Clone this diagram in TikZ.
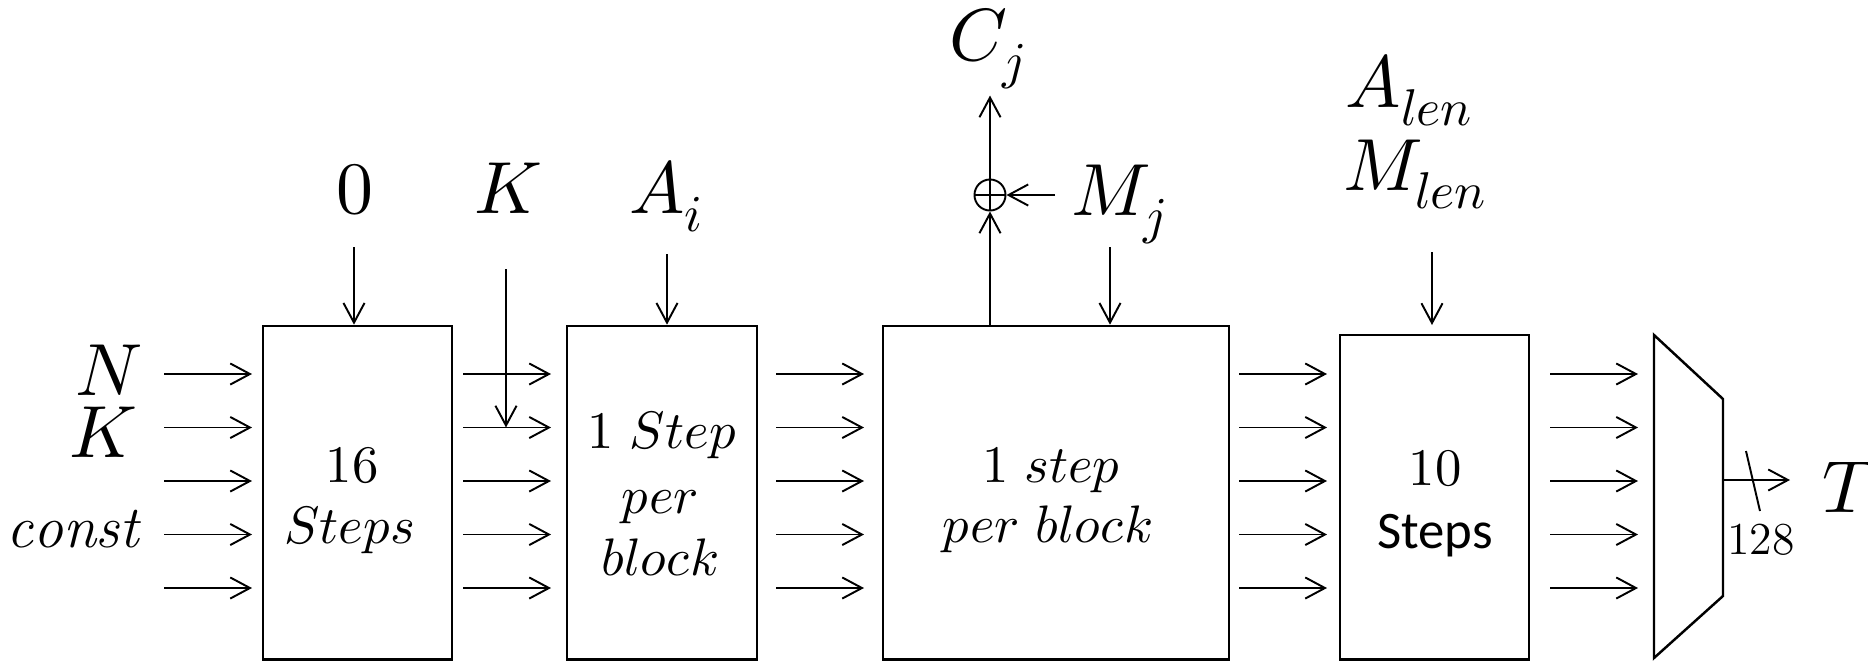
\documentclass[tikz,border=0pt]{standalone}
\usepackage{unicode-math}
\newfontfamily\calibri{Carlito}
\usetikzlibrary{arrows.meta,positioning,calc}
\tikzset{
  blk/.style={draw,line width=0.7pt,inner sep=0pt},
  arr/.style={-{Straight Barb[length=5.6pt,width=6pt]},line width=0.55pt},
  lbl/.style={font=\fontsize{21}{25}\selectfont,inner sep=0pt},
  txt/.style={font=\fontsize{15}{18}\selectfont,inner sep=0pt,anchor=base},
  xor/.style={circle,draw,line width=0.55pt,minimum size=0.31cm,inner sep=0pt,
    path picture={\draw[line width=0.55pt] (path picture bounding box.north) -- (path picture bounding box.south)
      (path picture bounding box.west) -- (path picture bounding box.east);}},
}

\begin{document}
\begin{tikzpicture}[x=0.01cm,y=-0.01cm]
    \useasboundingbox (0,0) rectangle (1868,660);
    \clip (0,0) rectangle (1868,660);
    \node[blk,minimum width=1.89cm,minimum height=3.335cm] (b1) at (357.5,492.75) {};
    \node[blk,minimum width=1.90cm,minimum height=3.335cm] (b2) at (662,492.75) {};
    \node[blk,minimum width=3.46cm,minimum height=3.335cm] (b3) at (1056,492.75) {};
    \node[blk,minimum width=1.89cm,minimum height=3.245cm] (b4) at (1434.5,497.25) {};
    \foreach \n/\x/\y/\t in {s1a/352/482/{$16$}, s1b/350/543/{$Steps$}, s2a/662/448/{$1\ Step$}, s2b/660/513/{$per$}, s2c/660/575/{$block$}, s3a/1051/482/{$1\ step$}, s3b/1048/542/{$per\ block$}, s4a/1435/485/{$10$}, s4b/1435/548/{\calibri Steps}}
      \node[txt] (\n) at (\x,\y) {\t};
    \foreach \i in {0,...,4}
      \foreach \s in {164,463,776,1239,1550}
        \draw[arr] (\s,{374+53.5*\i}) -- ++(88,0);
    \node[lbl,anchor=base east] (nin) at (143,395) {$N$};
    \node[lbl,anchor=base east] (kin) at (138,457) {$K$};
    \node[lbl,anchor=base east,font=\fontsize{17}{20}\selectfont] (cin) at (140,547) {$\mathit{const}$};
    \node[lbl,anchor=base] (zero) at (355,213) {$0$};
    \draw[arr] (zero.base) ++(-1,34) coordinate (z0) -- (z0 |- b1.north);
    \node[lbl,anchor=base] (ktop) at (508,213) {$K$};
    \draw[arr] (ktop.base) ++(-2,56) -- ++(0,158.5);
    \node[lbl,anchor=base] (ai) at (667,213) {$A_i$};
    \draw[arr] (ai.base) ++(0,41) coordinate (a0) -- (a0 |- b2.north);
    \node[xor] (xo) at (990,195) {};
    \draw[arr] (xo |- b3.north) -- (xo.south);
    \draw[arr] (xo.north) -- ++(0,-83);
    \node[lbl,anchor=base] (cj) at (988,60) {$C_j$};
    \node[lbl,anchor=base west] (mj) at (1071,215) {$M_j$};
    \draw[arr] (mj.base west) ++(-16,-20) -- (xo.east);
    \draw[arr] (mj.base west) ++(39,32) coordinate (m0) -- (m0 |- b3.north);
    \node[lbl,anchor=base west] (alen) at (1345,107) {$A_{len}$};
    \node[lbl,anchor=base west] (mlen) at (1343,190) {$M_{len}$};
    \draw[arr] (mlen.base west) ++(89,62) -- ++(0,73);
    \draw[line width=0.7pt] (1654,335) -- (1723,399) -- (1723,596) -- (1654,658) -- cycle;
    \coordinate (mo) at (1723,480);
    \draw[arr] (mo) -- ++(67,0);
    \draw[line width=0.55pt] (mo) ++(23,-29) -- ++(14,60);
    \node[font=\fontsize{13}{15}\selectfont,inner sep=0pt] (w) at (1761,540) {128};
    \node[lbl,anchor=base west] (t) at (1822,512) {$T$};
  \end{tikzpicture}
\end{document}
